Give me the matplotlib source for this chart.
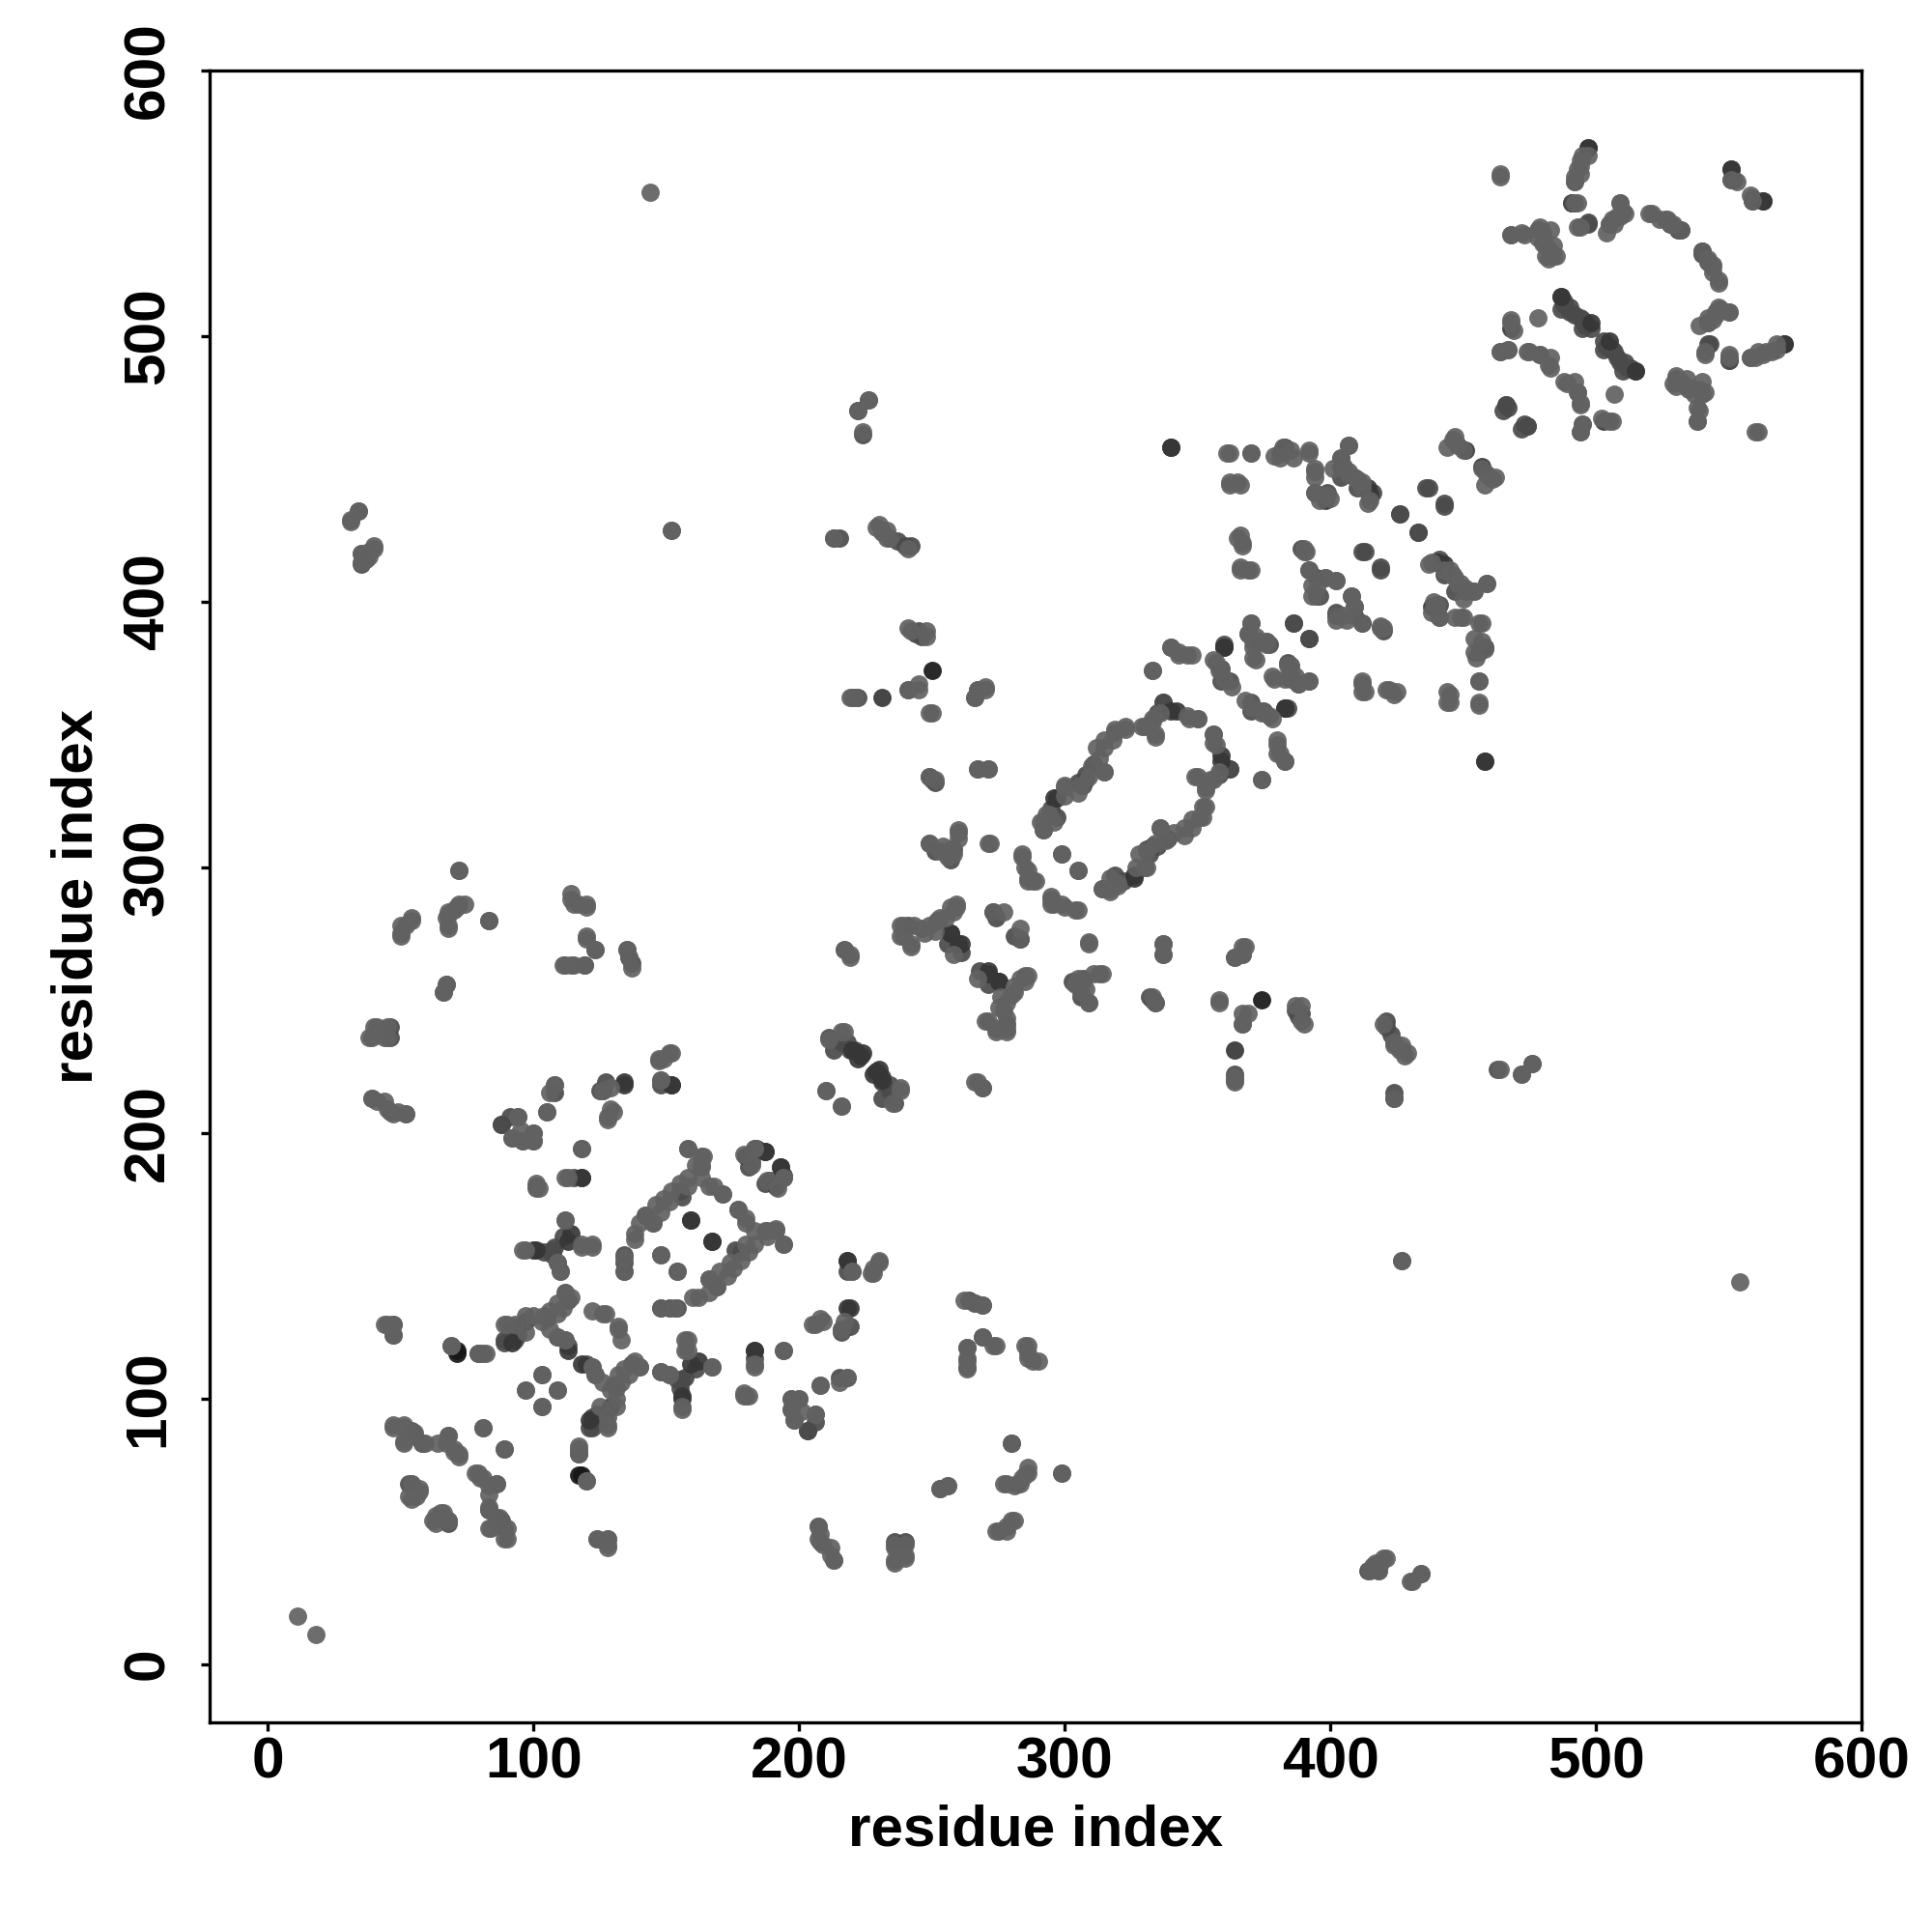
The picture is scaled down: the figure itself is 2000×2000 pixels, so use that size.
import matplotlib
matplotlib.use("Agg")
import matplotlib.pyplot as plt

contacts_light = [
    (11, 18), (144, 554), (152, 427), (34, 434), (31, 430), (35, 418), (37, 416), (38, 419), (40, 420),
    (222, 472), (226, 476), (230, 429), (231, 427), (234, 424), (233, 427), (241, 367), (245, 369), (250, 358),
    (266, 364), (267, 367), (270, 368), (267, 337), (271, 337), (248, 389), (241, 390),
    (50, 278), (50, 274), (54, 280), (67, 281), (68, 277), (68, 282), (70, 284), (72, 286), (74, 286), (72, 299),
    (67, 256), (66, 253), (114, 288), (117, 286), (120, 285), (120, 273), (123, 269), (111, 263), (114, 263),
    (135, 269), (136, 266), (137, 262), (39, 236), (41, 240), (44, 236), (39, 213), (44, 212), (46, 208),
    (52, 207), (41, 212), (49, 208), (47, 128), (44, 128), (47, 124), (47, 90), (51, 90), (51, 84), (59, 83),
    (55, 87), (64, 83), (68, 86), (70, 81), (72, 79), (54, 68), (57, 65), (53, 63), (63, 56), (66, 57),
    (62, 54), (68, 54), (81, 89), (89, 81), (78, 72), (80, 70), (83, 67), (86, 68), (83, 58), (83, 51),
    (89, 51), (89, 47), (69, 120), (79, 117), (81, 117), (97, 103), (103, 109), (109, 103), (103, 97),
    (117, 80), (120, 69), (124, 47), (128, 47), (128, 45), (82, 117),
    (94, 206), (92, 198), (96, 197), (100, 200), (100, 197), (108, 218), (105, 208), (126, 216), (129, 217),
    (129, 209), (128, 206), (147, 228), (151, 230), (148, 220), (118, 194), (101, 181), (101, 179), (113, 183),
    (112, 167), (96, 156), (122, 158), (118, 158), (109, 151), (110, 148), (112, 140), (109, 136), (106, 133),
    (104, 131), (100, 131), (93, 128), (89, 128), (109, 123), (112, 122), (122, 133), (126, 132), (132, 127),
    (122, 112), (123, 109), (126, 106), (129, 103), (132, 109), (134, 111), (138, 114), (140, 112), (131, 97),
    (125, 97), (128, 90), (148, 110), (151, 109), (167, 112), (157, 122), (157, 118), (156, 97), (148, 154),
    (154, 148), (148, 134), (153, 134), (158, 194), (163, 191), (163, 188), (161, 188), (158, 183), (155, 181),
    (152, 178), (149, 175), (146, 173), (142, 169), (140, 166), (145, 166), (166, 180), (171, 177), (177, 171),
    (180, 168), (183, 163), (191, 164), (187, 163), (194, 158), (180, 158), (174, 151), (170, 148), (166, 145),
    (162, 138), (160, 138), (179, 192), (183, 194), (194, 183), (188, 182), (216, 238), (238, 217), (235, 211),
    (210, 216), (216, 210), (220, 148), (227, 147), (230, 152), (228, 149), (208, 130), (205, 128), (216, 126),
    (183, 112), (194, 118), (179, 102), (180, 101), (208, 105), (215, 106), (218, 108), (197, 100), (200, 100),
    (197, 96), (201, 95), (206, 94), (198, 92), (207, 52), (207, 47), (209, 45), (213, 39), (236, 45),
    (236, 38), (240, 45), (240, 40), (253, 66), (256, 67), (275, 50), (278, 52), (281, 54), (278, 68), (283, 68),
    (285, 71), (280, 83), (299, 72), (263, 119), (263, 115), (263, 112), (269, 123), (274, 120), (286, 120),
    (286, 115), (290, 114), (269, 135), (415, 35), (418, 35), (421, 40), (417, 38), (431, 31), (434, 34),
    (427, 152), (464, 224), (472, 222), (476, 226), (424, 213), (364, 221), (364, 219), (420, 241), (424, 233),
    (426, 231), (428, 229), (217, 269), (219, 267), (266, 219), (269, 217),
    # middle stretch
    (260, 314), (260, 311), (257, 307), (256, 304), (249, 309), (254, 308), (271, 309), (284, 305), (285, 300),
    (288, 295), (286, 296), (299, 305), (305, 299), (295, 289), (299, 286), (304, 284), (295, 286),
    (346, 357), (350, 356), (333, 355), (334, 349), (329, 353), (323, 353), (319, 351), (315, 348), (312, 345),
    (315, 336), (310, 338), (300, 331), (300, 327), (293, 320), (291, 317), (292, 314), (356, 350), (356, 347),
    (358, 336), (356, 333), (350, 334), (353, 330), (352, 323), (352, 319), (348, 318), (345, 315), (341, 313),
    (336, 315), (334, 309), (331, 306), (328, 305), (330, 300), (320, 294), (317, 296), (317, 292), (314, 292),
    (340, 383), (343, 381), (346, 380), (333, 374), (356, 378), (358, 374), (370, 392), (369, 388), (371, 385),
    (376, 385), (371, 379), (378, 372), (384, 376), (383, 371), (387, 372), (388, 369), (392, 370), (368, 363),
    (371, 360), (374, 359), (377, 357), (380, 348), (380, 343), (383, 340), (374, 333),
    (238, 278), (238, 274), (242, 270), (246, 277), (249, 278), (253, 281), (257, 285), (259, 286), (258, 267),
    (285, 259), (283, 258), (281, 255), (280, 252), (276, 251), (275, 247), (271, 242), (278, 243), (274, 239),
    (278, 239), (273, 283), (277, 283), (309, 272), (313, 260), (306, 253), (309, 249), (305, 258), (337, 271),
    (337, 267), (333, 251), (334, 249), (358, 249), (367, 270), (364, 266), (367, 267), (367, 245), (367, 241),
    (387, 248), (389, 242),
    # upper right
    (495, 568), (494, 566), (493, 563), (492, 560), (492, 558), (492, 550), (493, 541), (509, 550), (510, 547),
    (508, 545), (506, 544), (505, 542), (504, 539), (520, 546), (524, 544), (526, 544), (529, 542), (540, 532),
    (542, 528), (544, 527), (546, 521), (551, 559), (558, 553), (464, 560), (468, 538), (472, 539), (478, 540),
    (478, 537), (481, 534), (485, 530), (481, 530), (483, 532), (468, 505), (469, 502), (464, 494), (467, 495),
    (474, 494), (479, 493), (482, 489), (488, 483), (492, 483), (493, 479), (494, 475), (507, 478), (494, 464),
    (495, 467), (506, 468), (530, 484), (529, 482), (534, 484), (535, 480), (539, 480), (541, 479), (540, 483),
    (538, 473), (538, 468), (561, 464), (542, 505), (542, 507), (545, 509), (546, 511), (550, 509), (541, 494),
    (550, 493), (558, 492), (561, 494), (564, 494), (568, 497), (446, 461), (444, 458), (448, 459), (457, 450),
    (459, 448), (462, 447), (407, 459), (404, 454), (401, 450), (405, 451), (407, 449), (409, 447), (412, 445),
    (414, 437), (382, 458), (379, 455), (385, 457), (392, 457), (394, 450), (394, 447), (394, 441), (390, 420),
    (391, 419), (402, 408), (398, 409), (393, 406), (393, 402), (438, 415), (443, 412), (446, 410), (448, 407),
    (454, 404), (459, 407), (439, 400), (440, 399), (438, 396), (441, 394), (449, 394), (456, 392), (454, 386),
    (454, 381), (402, 395), (405, 395), (408, 402), (409, 398), (412, 392), (419, 390), (412, 369), (412, 366),
    (421, 367), (424, 365), (445, 365), (445, 362), (456, 370), (456, 361), (362, 456), (370, 456), (362, 444),
    (366, 444), (366, 425), (367, 422), (366, 413), (370, 412), (385, 376),
]

contacts_mid = [
    (35, 414), (224, 463), (213, 424), (215, 424), (237, 423), (240, 421), (242, 421), (220, 364), (222, 364),
    (244, 388), (83, 280), (119, 263), (46, 240), (46, 236), (54, 88), (58, 83), (53, 68), (86, 55),
    (117, 79), (108, 215), (125, 216), (148, 218), (88, 203), (91, 206), (107, 156), (111, 161),
    (108, 157), (134, 151), (134, 148), (91, 125), (89, 121), (93, 122), (113, 137), (120, 113),
    (134, 154), (130, 105), (127, 94), (124, 94), (122, 89), (154, 107), (155, 104), (178, 155),
    (176, 156), (169, 142), (182, 189), (187, 181), (211, 236), (218, 234), (221, 231), (231, 219),
    (234, 216), (231, 213), (219, 127), (183, 115), (203, 88), (264, 137), (266, 136),
    (249, 334), (250, 333), (241, 278), (246, 387), (251, 306), (295, 322), (297, 319), (308, 335),
    (305, 332), (307, 331), (337, 362), (335, 358), (362, 337), (333, 308),
    (359, 375), (362, 370), (359, 370), (385, 373), (384, 360), (256, 271), (261, 268), (281, 274),
    (303, 257), (307, 258), (332, 251), (389, 245), (491, 550), (497, 543),
    (487, 515), (488, 513), (490, 511), (492, 508), (495, 506), (488, 512), (495, 503), (503, 498), (505, 496),
    (507, 494), (509, 490), (512, 488), (504, 496), (510, 487), (466, 474), (467, 473), (474, 466), (472, 465),
    (551, 563), (552, 559), (559, 551), (528, 542), (531, 540), (542, 497), (550, 491), (404, 447), (410, 443),
    (416, 441), (381, 456), (399, 441), (436, 443), (443, 437), (426, 433), (433, 426), (389, 420), (412, 419),
    (419, 413), (392, 412), (395, 409), (396, 402), (441, 415), (451, 404), (392, 386), (386, 392), (384, 377),
]

contacts_dark = [
    (118, 183), (134, 219), (152, 218), (100, 156), (97, 129), (113, 118), (121, 92),
    (159, 167), (167, 159), (156, 101), (159, 113), (162, 114), (183, 118), (187, 193), (193, 187), (191, 180),
    (184, 194), (218, 134), (218, 152), (224, 230), (223, 229), (220, 231), (228, 222), (231, 364),
    (340, 458), (340, 359), (360, 383), (271, 261),
    (275, 257), (283, 273), (257, 275), (260, 271), (296, 326), (339, 311), (326, 297), (359, 342), (383, 360),
    (497, 571), (532, 540), (498, 505), (515, 487), (563, 551), (571, 497), (451, 457), (458, 340),
    (414, 443), (395, 402), (398, 438), (458, 383), (440, 415), (503, 468),
]

contacts_strongest = [(71, 117), (250, 374), (417, 36), (118, 71)]

tick_values = [0, 100, 200, 300, 400, 500, 600]
axis_label = "residue index"
shade_light = 0.38
shade_mid = 0.29
shade_dark = 0.21
shade_strongest = 0.09

plt.rcParams["font.family"] = ["Liberation Sans", "DejaVu Sans"]
plt.rcParams["font.weight"] = "bold"

fig = plt.figure(figsize=(20, 20), dpi=100)
ax = fig.add_axes([217 / 2000, 217 / 2000, 1710 / 2000, 1710 / 2000])


def draw_contacts(pairs, shade):
    # every contact shows up on both sides of the diagonal
    xs = [p[0] for p in pairs] + [p[1] for p in pairs]
    ys = [p[1] for p in pairs] + [p[0] for p in pairs]
    ax.scatter(xs, ys, s=185, color=str(shade), alpha=0.92, linewidths=0)


draw_contacts(contacts_strongest, shade_strongest)
draw_contacts(contacts_mid, shade_mid)
draw_contacts(contacts_dark, shade_dark)
draw_contacts(contacts_light, shade_light)

ax.set_xlim(-22, 600)
ax.set_ylim(-22, 600)
ax.set_xticks(tick_values)
ax.set_yticks(tick_values)
ax.tick_params(axis="x", length=6.5, width=2.4, labelsize=43.5, pad=4)
ax.tick_params(axis="y", length=6.5, width=2.4, labelsize=43.5, pad=19)
for lab in ax.get_yticklabels():
    lab.set_rotation(90)
    lab.set_va("center")
for spine in ax.spines.values():
    spine.set_linewidth(2.4)

ax.set_xlabel(axis_label, fontsize=43.3, fontweight="bold", labelpad=11)
ax.set_ylabel(axis_label, fontsize=43.3, fontweight="bold", labelpad=14)

fig.savefig("out.png", dpi=100)
